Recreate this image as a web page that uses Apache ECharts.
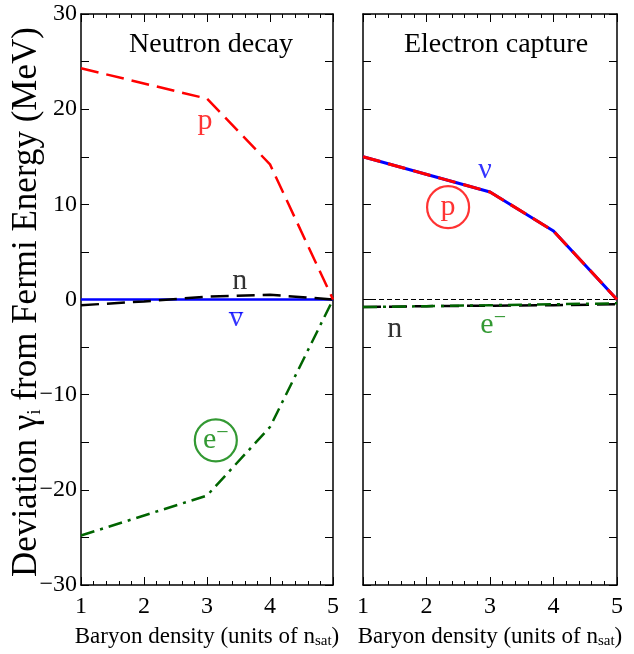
<!DOCTYPE html>
<html>
<head>
<meta charset="utf-8">
<script src="https://cdn.jsdelivr.net/npm/echarts@6/dist/echarts.min.js"></script>
<style>
  html, body { margin: 0; padding: 0; background: #fff; }
  #chart { width: 634px; height: 654px; }
</style>
</head>
<body>
<div id="chart"></div>
<script>
// baryon density (units of n_sat)
const density = [1, 3, 4, 5];
const densityN = [1, 2, 3, 4, 5];

// Neutron decay panel
const decayProton = [24.3, 21.1, 14.2, 0];
const decayNeutron = [-0.6, -0.2, 0.3, 0.5, 0];
const decayAntiNu = [0, 0, 0, 0, 0];
const decayElectron = [-24.8, -20.6, -13.4, 0];

// Electron capture panel
const capProton = [15.0, 11.3, 7.2, 0];
const capNu = [15.0, 11.3, 7.2, 0];
const capNeutron = [-0.8, -0.7, -0.65, -0.6, -0.5];
const capElectron = [-0.8, -0.7, -0.6, -0.5, -0.4];
const capZero = [0, 0, 0, 0, 0];

const panelTitles = ['Neutron decay', 'Electron capture'];

const FONT = '"Liberation Serif", "Times New Roman", serif';

const pair = (xs, ys) => xs.map((x, i) => [x, ys[i]]);

const chart = echarts.init(document.getElementById('chart'));

function xAxisFor(grid, pos) {
    return {
        type: 'value', gridIndex: grid, position: pos,
        min: 1, max: 5, interval: 1,
        axisLine: { show: true, onZero: false, lineStyle: { color: '#000', width: 1.5 } },
        axisTick: { show: true, inside: true, length: 8, lineStyle: { color: '#000', width: 1 } },
        minorTick: { show: true, splitNumber: 5, length: 4, lineStyle: { color: '#000', width: 1 } },
        splitLine: { show: false },
        axisLabel: {
            show: pos === 'bottom', margin: 10,
            fontFamily: FONT, fontSize: 24, color: '#000'
        },
        name: pos === 'bottom' ? '{a|Baryon density (units of n}{s|sat}{a|)}' : '',
        nameLocation: 'middle', nameGap: 40,
        nameTextStyle: {
            rich: {
                a: { fontFamily: FONT, fontSize: 23, color: '#000' },
                s: { fontFamily: FONT, fontSize: 15, color: '#000', verticalAlign: 'bottom', padding: [9, 0, 0, 0] }
            }
        }
    };
}

function yAxisFor(grid, pos) {
    const showLabel = grid === 0 && pos === 'left';
    return {
        type: 'value', gridIndex: grid, position: pos,
        min: -30, max: 30, interval: 10,
        axisLine: { show: true, onZero: false, lineStyle: { color: '#000', width: 1.5 } },
        axisTick: { show: true, inside: true, length: 8, lineStyle: { color: '#000', width: 1 } },
        minorTick: { show: true, splitNumber: 2, length: 8, lineStyle: { color: '#000', width: 1 } },
        splitLine: { show: false },
        axisLabel: {
            show: showLabel, margin: 4,
            fontFamily: FONT, fontSize: 24, color: '#000',
            formatter: v => String(v).replace('-', '\u2212')
        }
    };
}

function line(name, grid, data, color, type, width, z) {
    return {
        name, type: 'line', xAxisIndex: grid * 2, yAxisIndex: grid * 2,
        data, symbol: 'none', z: z || 2,
        lineStyle: { color, type, width },
        animation: false
    };
}

// text annotations in data coordinates
function note(grid, x, y, text, color, circled, size) {
    const fs = size || 30;
    return {
        type: 'scatter', xAxisIndex: grid * 2, yAxisIndex: grid * 2,
        data: [[x, y]], z: 6,
        symbol: 'circle', symbolSize: circled ? 42 : 0,
        itemStyle: { color: 'rgba(0,0,0,0)', borderColor: color, borderWidth: circled ? 2.2 : 0 },
        label: {
            show: true, position: 'inside', formatter: text,
            color, fontFamily: FONT, fontSize: fs,
            rich: {
                b: { color, fontFamily: FONT, fontSize: fs },
                sup: { color, fontFamily: FONT, fontSize: 22, verticalAlign: 'top', padding: [0, 0, 14, 0] }
            }
        },
        silent: true, animation: false
    };
}

const dash = [18, 8];
const dashDot = [14, 6, 3, 6];

chart.setOption({
    backgroundColor: '#fff',
    title: panelTitles.map((t, i) => ({
        text: t, left: i === 0 ? 206 : 491, top: 26, textAlign: 'center',
        textStyle: { fontFamily: FONT, fontSize: 28, fontWeight: 'normal', color: '#000' }
    })),
    graphic: [{
        type: 'text', x: 27, y: 302, rotation: Math.PI / 2,
        style: {
            text: '{a|Deviation γ}{s|i}{a| from Fermi Energy (MeV)}',
            align: 'center', verticalAlign: 'middle',
            rich: {
                a: { fontFamily: FONT, fontSize: 35, fill: '#000' },
                s: { fontFamily: FONT, fontSize: 19, fill: '#000', verticalAlign: 'bottom', padding: [15, 0, 0, 0] }
            }
        }
    }],
    grid: [
        { left: 81, top: 14, width: 252, height: 572 },
        { left: 363, top: 14, width: 254, height: 572 }
    ],
    xAxis: [xAxisFor(0, 'bottom'), xAxisFor(0, 'top'), xAxisFor(1, 'bottom'), xAxisFor(1, 'top')],
    yAxis: [yAxisFor(0, 'left'), yAxisFor(0, 'right'), yAxisFor(1, 'left'), yAxisFor(1, 'right')],
    series: [
        line('anti-nu', 0, pair(densityN, decayAntiNu), '#0000ff', 'solid', 2.5, 2),
        line('n', 0, pair(densityN, decayNeutron), '#000', dash, 2.5, 3),
        line('p', 0, pair(density, decayProton), '#ff0000', dash, 2.5, 3),
        line('e', 0, pair(density, decayElectron), '#006400', dashDot, 2.5, 3),

        line('zero', 1, pair(densityN, capZero), '#000', [5, 3], 1, 2),
        line('n', 1, pair(densityN, capNeutron), '#000', dash, 2.5, 3),
        line('e', 1, pair(densityN, capElectron), '#006400', dashDot, 2.5, 4),
        line('nu', 1, pair(density, capNu), '#0000ff', 'solid', 3, 3),
        line('p', 1, pair(density, capProton), '#ff0000', dash, 3, 4),

        note(0, 2.97, 18.7, 'p', '#ff0000', false),
        note(0, 3.52, 1.9, 'n', '#000', false),
        note(0, 3.46, -2.0, 'ν', '#0000ff', false),
        note(0, 3.46, -2.7, '\u00af', '#0000ff', false, 28),
        note(0, 3.14, -14.8, '{b|e}{sup|\u2212}', '#008000', true),
        note(1, 2.92, 13.6, 'ν', '#0000ff', false),
        note(1, 2.34, 9.7, 'p', '#ff0000', true),
        note(1, 1.5, -3.1, 'n', '#000', false),
        note(1, 3.05, -2.7, '{b|e}{sup|\u2212}', '#008000', false)
    ]
});
</script>
</body>
</html>
